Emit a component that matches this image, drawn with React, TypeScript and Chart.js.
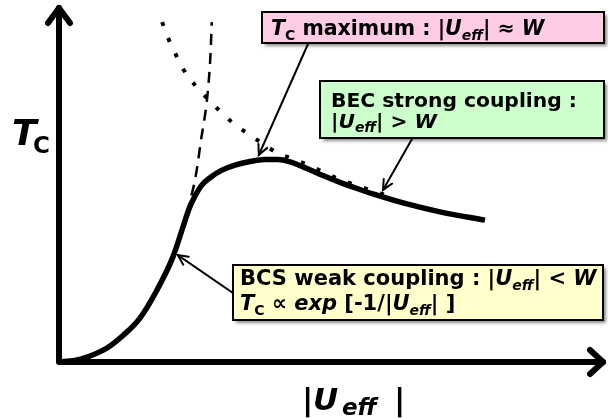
import React, { useEffect, useRef } from "react";
import { Chart, registerables } from "chart.js";

Chart.register(...registerables);

// Schematic values (arbitrary units: x = |U_eff|, y = T_C)
const tcX = [0, 2.96, 5.74, 8.89, 11.85, 15.0, 18.15, 21.1, 22.96, 24.07, 25.19, 26.48, 28.15, 30.19, 32.59, 35.37, 38.15, 40.56, 42.78, 45.93, 48.89, 52.04, 55.19, 58.15, 64.44, 70.56, 78.89];
const tcY = [0, 0.42, 1.67, 3.89, 7.36, 12.2, 20.0, 29.2, 37.5, 42.5, 46.1, 49.2, 51.4, 53.3, 54.7, 55.7, 56.25, 56.25, 55.6, 53.75, 51.8, 49.9, 48.2, 46.7, 43.9, 41.7, 39.4];

const bcsX = [21.5, 22.2, 23.0, 23.7, 24.3, 25.0, 25.6, 26.3, 26.9, 27.4, 28.0, 28.3];
const bcsY = [31.1, 33.9, 37.5, 41.4, 45.0, 49.2, 54.2, 61.7, 67.2, 72.8, 83.9, 94.4];

const becX = [19.1, 20.2, 21.5, 23.1, 25.2, 27.4, 29.6, 32.2, 34.8, 37.6, 40.4, 43.3, 46.9, 49.3, 52.0, 55.2, 58.1, 61.3];
const becY = [94.4, 90.0, 85.8, 81.1, 76.9, 73.3, 70.0, 66.4, 63.6, 60.8, 58.1, 56.4, 54.2, 52.5, 50.7, 49.0, 47.5, 46.0];

// Points on the curve that the callouts point at (data units)
const maxTarget = [37.0, 57.5];
const becTarget = [60.0, 47.8];
const bcsTarget = [22.0, 29.7];

type Seg = { t: string; i?: boolean; sub?: boolean };

const maxText: Seg[][] = [[
  { t: "T", i: true }, { t: "C", sub: true }, { t: " maximum : |" },
  { t: "U", i: true }, { t: "eff", i: true, sub: true }, { t: "| ≈ " }, { t: "W", i: true },
]];
const becText: Seg[][] = [
  [{ t: "BEC strong coupling :" }],
  [{ t: "|" }, { t: "U", i: true }, { t: "eff", i: true, sub: true }, { t: "| > " }, { t: "W", i: true }],
];
const bcsText: Seg[][] = [
  [{ t: "BCS weak coupling : |" }, { t: "U", i: true }, { t: "eff", i: true, sub: true }, { t: "| < " }, { t: "W", i: true }],
  [{ t: "T", i: true }, { t: "C", sub: true }, { t: " ∝ " }, { t: "exp", i: true }, { t: " [-1/|" }, { t: "U", i: true }, { t: "eff", i: true, sub: true }, { t: "| ]" }],
];

const FONT = "'DejaVu Sans', 'Liberation Sans', sans-serif";

const callouts = [
  { box: [262, 12, 342, 31], fill: "#FFCCE6", pad: 9, baselines: [23], size: 20.5, lines: maxText, from: [308, 44], to: maxTarget },
  { box: [320, 81, 284, 57], fill: "#CCFFCC", pad: 11, baselines: [26, 47], size: 20.3, lines: becText, from: [412, 139], to: becTarget },
  { box: [233, 265, 370, 55], fill: "#FFFFCC", pad: 7, baselines: [20, 45], size: 21, lines: bcsText, from: [233, 293], to: bcsTarget },
];

function drawRich(ctx: CanvasRenderingContext2D, x: number, y: number, segs: Seg[], size: number) {
  let cx = x;
  for (const s of segs) {
    const fs = s.sub ? Math.round(size * 0.68) : size;
    ctx.font = `${s.i ? "italic " : ""}bold ${fs}px ${FONT}`;
    const dy = s.sub ? size * 0.22 : 0;
    ctx.fillText(s.t, cx, y + dy);
    cx += ctx.measureText(s.t).width;
  }
  return cx;
}

function arrow(ctx: CanvasRenderingContext2D, x0: number, y0: number, x1: number, y1: number, head: number) {
  const a = Math.atan2(y1 - y0, x1 - x0);
  ctx.beginPath();
  ctx.moveTo(x0, y0);
  ctx.lineTo(x1, y1);
  ctx.stroke();
  ctx.beginPath();
  ctx.moveTo(x1 - head * Math.cos(a - 0.45), y1 - head * Math.sin(a - 0.45));
  ctx.lineTo(x1, y1);
  ctx.lineTo(x1 - head * Math.cos(a + 0.45), y1 - head * Math.sin(a + 0.45));
  ctx.stroke();
}

const overlay = {
  id: "overlay",
  afterDraw(chart: any) {
    const ctx: CanvasRenderingContext2D = chart.ctx;
    const xs = chart.scales.x;
    const ys = chart.scales.y;
    const ox = xs.getPixelForValue(0);
    const oy = ys.getPixelForValue(0);
    ctx.save();
    ctx.strokeStyle = "#000";
    ctx.fillStyle = "#000";
    ctx.lineCap = "round";
    ctx.lineJoin = "round";
    // axes
    ctx.lineWidth = 6;
    ctx.beginPath();
    ctx.moveTo(ox, oy);
    ctx.lineTo(ox, 8);
    ctx.moveTo(ox, oy);
    ctx.lineTo(603, oy);
    ctx.stroke();
    ctx.beginPath();
    ctx.moveTo(ox - 11, 23);
    ctx.lineTo(ox, 8);
    ctx.lineTo(ox + 11, 23);
    ctx.stroke();
    ctx.beginPath();
    ctx.moveTo(590, oy - 12);
    ctx.lineTo(603, oy);
    ctx.lineTo(590, oy + 12);
    ctx.stroke();

    // axis titles
    ctx.textBaseline = "alphabetic";
    ctx.font = `italic bold 36px ${FONT}`;
    ctx.fillText("T", 12, 145);
    ctx.font = `bold 23px ${FONT}`;
    ctx.fillText("C", 33, 153);

    ctx.font = `bold 31px ${FONT}`;
    ctx.fillText("|", 302, 410);
    ctx.font = `italic bold 31px ${FONT}`;
    ctx.fillText("U", 313, 410);
    ctx.font = `italic bold 23px ${FONT}`;
    ctx.fillText("eff", 342, 415);
    ctx.font = `bold 31px ${FONT}`;
    ctx.fillText("|", 394, 410);

    // callouts
    for (const c of callouts) {
      const [bx, by, bw, bh] = c.box;
      ctx.save();
      ctx.shadowColor = "rgba(0,0,0,0.45)";
      ctx.shadowOffsetX = 3;
      ctx.shadowOffsetY = 3;
      ctx.shadowBlur = 3;
      ctx.fillStyle = c.fill;
      ctx.fillRect(bx, by, bw, bh);
      ctx.restore();
      ctx.lineWidth = 2;
      ctx.lineCap = "butt";
      ctx.lineJoin = "miter";
      ctx.strokeRect(bx, by, bw, bh);
      c.lines.forEach((segs, k) => drawRich(ctx, bx + c.pad, by + c.baselines[k], segs, c.size));
      ctx.lineWidth = 2;
      ctx.lineCap = "round";
      const tx = xs.getPixelForValue(c.to[0]);
      const ty = ys.getPixelForValue(c.to[1]);
      arrow(ctx, c.from[0], c.from[1], tx, ty, 11);
    }
    ctx.restore();
  },
};

export default function App() {
  const ref = useRef<HTMLCanvasElement | null>(null);
  useEffect(() => {
    if (!ref.current) return;
    const pts = (xs: number[], ys: number[]) => xs.map((x, i) => ({ x, y: ys[i] }));
    const chart = new Chart(ref.current, {
      type: "line",
      data: {
        datasets: [
          {
            label: "Tc",
            data: pts(tcX, tcY),
            borderColor: "#000",
            borderWidth: 5.5,
            pointRadius: 0,
            cubicInterpolationMode: "monotone",
            fill: false,
            order: 0,
          },
          {
            label: "BCS",
            data: pts(bcsX, bcsY),
            borderColor: "#000",
            borderWidth: 2.5,
            borderDash: [11, 8],
            pointRadius: 0,
            cubicInterpolationMode: "monotone",
            fill: false,
            order: 1,
          },
          {
            label: "BEC",
            data: pts(becX, becY),
            borderColor: "#000",
            borderWidth: 4,
            borderDash: [4, 13],
            borderCapStyle: "butt",
            pointRadius: 0,
            cubicInterpolationMode: "monotone",
            fill: false,
            order: 2,
          },
        ],
      },
      options: {
        animation: false,
        responsive: false,
        events: [],
        layout: { padding: { left: 59, right: 9, top: 2, bottom: 56 } },
        scales: {
          x: { type: "linear", min: 0, max: 100, display: false },
          y: { type: "linear", min: 0, max: 100, display: false },
        },
        plugins: { legend: { display: false }, tooltip: { enabled: false } },
      },
      plugins: [overlay],
    } as any);
    return () => chart.destroy();
  }, []);
  return (
    <div style={{ position: "fixed", left: 0, top: 0, width: 608, height: 418, background: "#fff" }}>
      <canvas ref={ref} width={608} height={418} />
    </div>
  );
}
